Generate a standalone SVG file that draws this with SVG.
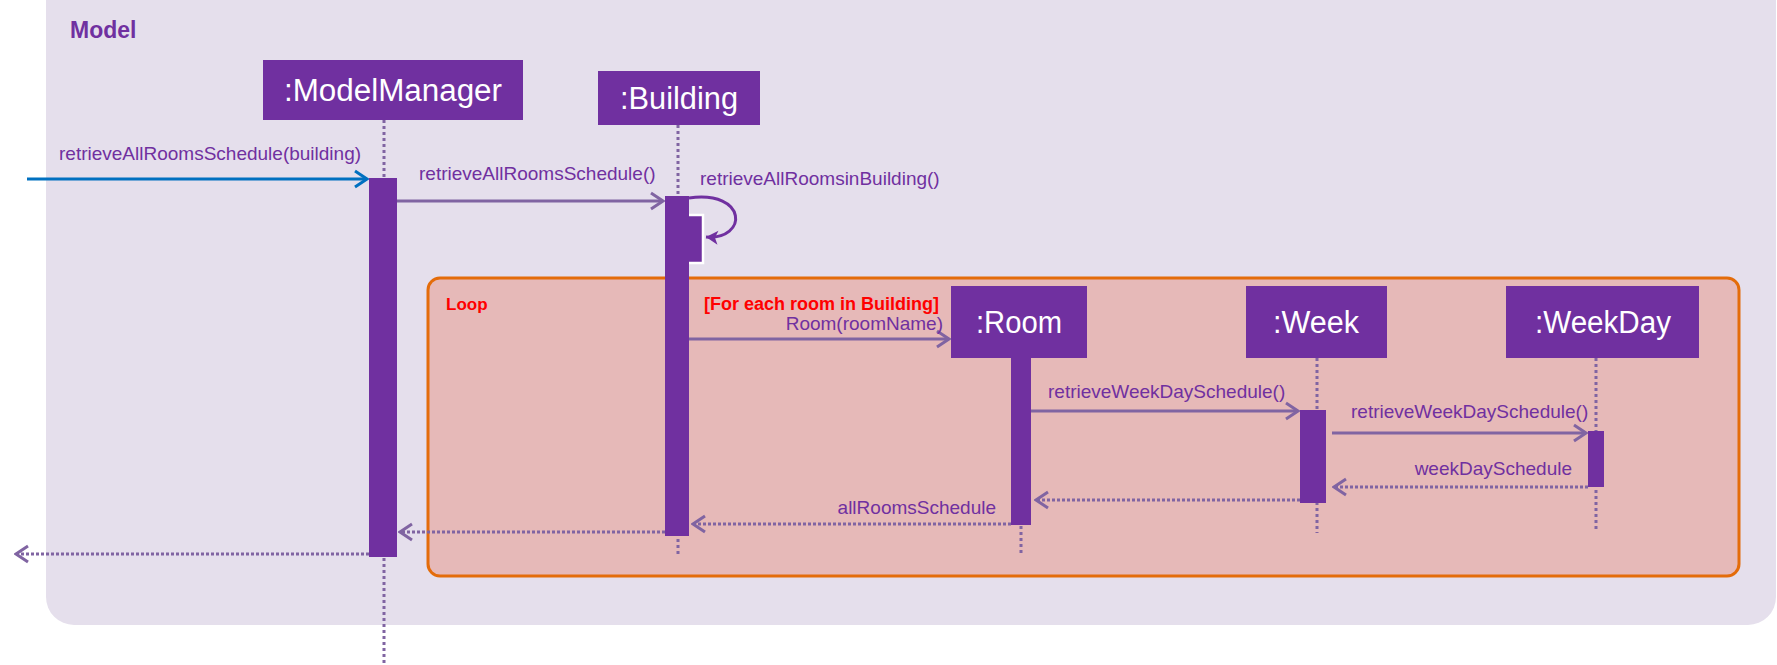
<svg xmlns="http://www.w3.org/2000/svg" width="1777" height="665" viewBox="0 0 1777 665">
<defs>
<marker id="open" viewBox="-14 -10 16 20" refX="0" refY="0" markerWidth="16" markerHeight="20" markerUnits="userSpaceOnUse" orient="auto">
<path d="M-12,-8 L0,0 L-12,8" fill="none" stroke="#8064A2" stroke-width="3"/>
</marker>
<marker id="openBlue" viewBox="-14 -10 16 20" refX="0" refY="0" markerWidth="16" markerHeight="20" markerUnits="userSpaceOnUse" orient="auto">
<path d="M-12,-8 L0,0 L-12,8" fill="none" stroke="#0070C0" stroke-width="3"/>
</marker>
<marker id="filled" viewBox="-14 -10 16 20" refX="0" refY="0" markerWidth="16" markerHeight="20" markerUnits="userSpaceOnUse" orient="auto">
<path d="M-12,-7 L0,0 L-12,7 L-9,0 Z" fill="#7030A0"/>
</marker>
</defs>
<style>
.box{fill:#7030A0}
.name{font-family:"Liberation Sans",Arial,sans-serif;font-size:31px;fill:#FFFFFF;text-anchor:middle}
.act{fill:#7030A0}
.life{stroke:#8064A2;stroke-width:3;stroke-dasharray:3 3;fill:none}
.msg{stroke:#8064A2;stroke-width:3;fill:none;marker-end:url(#open)}
.ret{stroke:#8064A2;stroke-width:3;stroke-dasharray:3 2;fill:none;marker-end:url(#open)}
.lbl{font-family:"Liberation Sans",Arial,sans-serif;font-size:19px;fill:#7030A0}
.red{font-family:"Liberation Sans",Arial,sans-serif;font-weight:bold;fill:#FF0000}
</style>
<g id="model-frame">
<rect x="46" y="-30" width="1730" height="655" rx="28" fill="#E5DFEC"/>
<text x="70" y="38" font-family="Liberation Sans, Arial, sans-serif" font-weight="bold" font-size="23" fill="#7030A0">Model</text>
</g>
<g id="loop-frame">
<rect x="428" y="278" width="1311" height="298" rx="12" fill="#E6B9B8" stroke="#E46C0A" stroke-width="3"/>
<text x="446" y="310" class="red" font-size="17">Loop</text>
<text x="704" y="310" class="red" font-size="18">[For each room in Building]</text>
</g>
<g id="lifelines">
<line class="life" x1="384" y1="120" x2="384" y2="665"/>
<line class="life" x1="678" y1="125" x2="678" y2="555"/>
<line class="life" x1="1021" y1="358" x2="1021" y2="555"/>
<line class="life" x1="1317" y1="358" x2="1317" y2="533"/>
<line class="life" x1="1596" y1="358" x2="1596" y2="529"/>
</g>
<g id="ModelManager">
<rect class="box" x="263" y="60" width="260" height="60"/>
<text class="name" x="393" y="101" textLength="218" lengthAdjust="spacingAndGlyphs">:ModelManager</text>
<rect class="act" x="369" y="178" width="28" height="379"/>
</g>
<g id="Building">
<rect class="box" x="598" y="71" width="162" height="54"/>
<text class="name" x="679" y="109" textLength="118" lengthAdjust="spacingAndGlyphs">:Building</text>
<rect x="684" y="215" width="19" height="48" fill="#7030A0" stroke="#FFFFFF" stroke-width="2.5"/>
<rect class="act" x="665" y="196" width="24" height="340"/>
</g>
<g id="Room">
<rect class="box" x="951" y="286" width="136" height="72"/>
<text class="name" x="1019" y="333" textLength="86" lengthAdjust="spacingAndGlyphs">:Room</text>
<rect class="act" x="1011" y="358" width="20" height="167"/>
</g>
<g id="Week">
<rect class="box" x="1246" y="286" width="141" height="72"/>
<text class="name" x="1316" y="333" textLength="86" lengthAdjust="spacingAndGlyphs">:Week</text>
<rect class="act" x="1300" y="410" width="26" height="93"/>
</g>
<g id="WeekDay">
<rect class="box" x="1506" y="286" width="193" height="72"/>
<text class="name" x="1603" y="333" textLength="136" lengthAdjust="spacingAndGlyphs">:WeekDay</text>
<rect class="act" x="1588" y="431" width="16" height="56"/>
</g>
<g id="connectors">
<line x1="27" y1="179" x2="367" y2="179" stroke="#0070C0" stroke-width="3" marker-end="url(#openBlue)"/>
<text class="lbl" x="59" y="160">retrieveAllRoomsSchedule(building)</text>
<line class="msg" x1="397" y1="201" x2="663" y2="201"/>
<text class="lbl" x="419" y="180">retrieveAllRoomsSchedule()</text>
<path d="M689,198 C748,190 748,240 706,237" fill="none" stroke="#7030A0" stroke-width="3" marker-end="url(#filled)"/>
<text class="lbl" x="700" y="185">retrieveAllRoomsinBuilding()</text>
<line class="msg" x1="689" y1="339" x2="949" y2="339"/>
<text class="lbl" x="943" y="330" text-anchor="end">Room(roomName)</text>
<line class="msg" x1="1031" y1="411" x2="1298" y2="411"/>
<text class="lbl" x="1048" y="398">retrieveWeekDaySchedule()</text>
<line class="msg" x1="1332" y1="433" x2="1586" y2="433"/>
<text class="lbl" x="1351" y="418">retrieveWeekDaySchedule()</text>
<line class="ret" x1="1588" y1="487" x2="1334" y2="487"/>
<text class="lbl" x="1572" y="475" text-anchor="end">weekDaySchedule</text>
<line class="ret" x1="1300" y1="500" x2="1036" y2="500"/>
<line class="ret" x1="1011" y1="524" x2="693" y2="524"/>
<text class="lbl" x="996" y="514" text-anchor="end">allRoomsSchedule</text>
<line class="ret" x1="665" y1="532" x2="400" y2="532"/>
<line class="ret" x1="369" y1="554" x2="16" y2="554"/>
</g>
</svg>
